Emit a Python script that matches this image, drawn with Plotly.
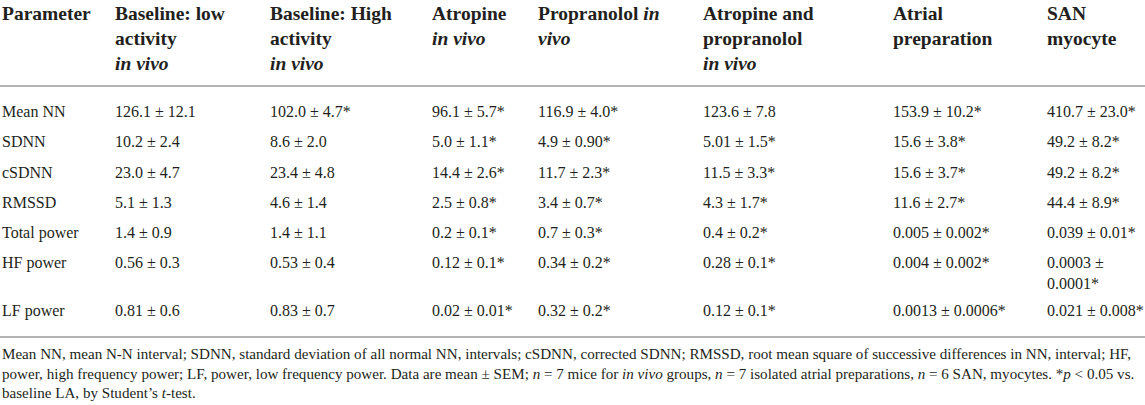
import plotly.graph_objects as go

# ---------------- data ----------------
headers = [
    "Parameter",
    "Baseline: low<br>activity<br><i>in vivo</i>",
    "Baseline: High<br>activity<br><i>in vivo</i>",
    "Atropine<br><i>in vivo</i>",
    "Propranolol <i>in</i><br><i>vivo</i>",
    "Atropine and<br>propranolol<br><i>in vivo</i>",
    "Atrial<br>preparation",
    "SAN<br>myocyte",
]
parameters = ["Mean NN", "SDNN", "cSDNN", "RMSSD", "Total power", "HF power", "LF power"]
baseline_low = ["126.1 ± 12.1", "10.2 ± 2.4", "23.0 ± 4.7", "5.1 ± 1.3", "1.4 ± 0.9", "0.56 ± 0.3", "0.81 ± 0.6"]
baseline_high = ["102.0 ± 4.7*", "8.6 ± 2.0", "23.4 ± 4.8", "4.6 ± 1.4", "1.4 ± 1.1", "0.53 ± 0.4", "0.83 ± 0.7"]
atropine = ["96.1 ± 5.7*", "5.0 ± 1.1*", "14.4 ± 2.6*", "2.5 ± 0.8*", "0.2 ± 0.1*", "0.12 ± 0.1*", "0.02 ± 0.01*"]
propranolol = ["116.9 ± 4.0*", "4.9 ± 0.90*", "11.7 ± 2.3*", "3.4 ± 0.7*", "0.7 ± 0.3*", "0.34 ± 0.2*", "0.32 ± 0.2*"]
atropine_propranolol = ["123.6 ± 7.8", "5.01 ± 1.5*", "11.5 ± 3.3*", "4.3 ± 1.7*", "0.4 ± 0.2*", "0.28 ± 0.1*", "0.12 ± 0.1*"]
atrial_prep = ["153.9 ± 10.2*", "15.6 ± 3.8*", "15.6 ± 3.7*", "11.6 ± 2.7*", "0.005 ± 0.002*", "0.004 ± 0.002*", "0.0013 ± 0.0006*"]
san_myocyte = ["410.7 ± 23.0*", "49.2 ± 8.2*", "49.2 ± 8.2*", "44.4 ± 8.9*", "0.039 ± 0.01*", "0.0003 ±<br>0.0001*", "0.021 ± 0.008*"]
footnote_lines = [
    "Mean NN, mean N-N interval; SDNN, standard deviation of all normal NN, intervals; cSDNN, corrected SDNN; "
    "RMSSD, root mean square of successive differences in NN, interval; HF,",
    "power, high frequency power; LF, power, low frequency power. Data are mean ± SEM; <i>n</i> = 7 mice for "
    "<i>in vivo</i> groups, <i>n</i> = 7 isolated atrial preparations, <i>n</i> = 6 SAN, myocytes. *<i>p</i> &lt; 0.05 vs.",
    "baseline LA, by Student’s <i>t</i>-test.",
]

columns = [parameters, baseline_low, baseline_high, atropine, propranolol,
           atropine_propranolol, atrial_prep, san_myocyte]

# ---------------- layout (pixel space) ----------------
W, H = 1145, 405
col_x = [2, 115, 270, 432, 538, 703, 893, 1047]
header_top = 5
row_center = [111, 141, 172, 202, 232, 262, 310]
rule_y = [86, 337]
foot_center = [355, 375, 394]
FONT = "Liberation Serif"
TXT = "#231f20"
HEAD_SIZE = 19.5
CELL_SIZE = 16
FOOT_SIZE = 15.1

fig = go.Figure()

# header
fig.add_trace(go.Scatter(
    x=col_x, y=[header_top] * len(col_x),
    text=["<b>" + h + "</b>" for h in headers],
    mode="text", textposition="bottom right",
    textfont=dict(family=FONT, size=HEAD_SIZE, color=TXT),
    hoverinfo="skip", showlegend=False,
))

# body cells
for cx, col in zip(col_x, columns):
    fig.add_trace(go.Scatter(
        x=[cx] * len(col), y=[rc - 6 for rc in row_center],
        text=col, mode="text", textposition="bottom right",
        textfont=dict(family=FONT, size=CELL_SIZE, color=TXT),
        hoverinfo="skip", showlegend=False,
    ))

# footnote
fig.add_trace(go.Scatter(
    x=[col_x[0]] * len(footnote_lines), y=foot_center,
    text=footnote_lines, mode="text", textposition="middle right",
    textfont=dict(family=FONT, size=FOOT_SIZE, color=TXT),
    hoverinfo="skip", showlegend=False,
))

for ry in rule_y:
    fig.add_shape(type="line", xref="x", yref="y", x0=0, x1=W, y0=ry, y1=ry,
                  line=dict(color="#9a9a9a", width=1.6))

fig.update_layout(
    width=W, height=H, autosize=False,
    margin=dict(l=0, r=0, t=0, b=0, pad=0),
    paper_bgcolor="white", plot_bgcolor="white",
    xaxis=dict(range=[0, W], visible=False, fixedrange=True),
    yaxis=dict(range=[H, 0], visible=False, fixedrange=True),
)

fig.write_html("out.html", config={"displayModeBar": False, "staticPlot": True},
               post_script="document.body.style.margin='0';document.body.style.overflow='hidden';")
